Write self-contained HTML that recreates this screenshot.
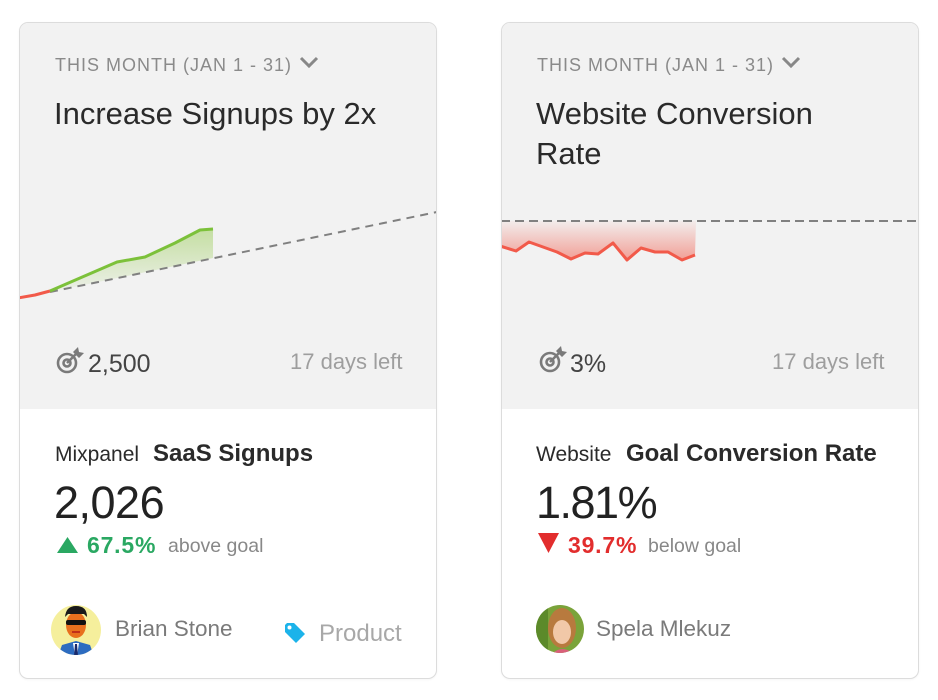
<!DOCTYPE html>
<html><head><meta charset="utf-8">
<style>
*{margin:0;padding:0;box-sizing:border-box}
html,body{width:938px;height:700px;background:#fff;overflow:hidden;font-family:"Liberation Sans",Arial,sans-serif}
.card{position:absolute;top:22px;width:418px;height:657px;border:1.5px solid #dcdcdc;border-radius:9px;overflow:hidden;background:#fff;box-shadow:0 1px 2px rgba(0,0,0,0.04)}
.top{position:absolute;left:0;top:0;width:100%;height:386px;background:#f2f2f2}
.t{position:absolute;white-space:nowrap;line-height:1}
.hdr{font-size:18px;letter-spacing:1px;color:#8a8a8a}
.title{font-size:31px;color:#2a2a2a}
.goal{font-size:25px;color:#444}
.days{font-size:22px;color:#9e9e9e}
.src{font-size:21px;color:#2a2a2a}
.met{font-size:24px;font-weight:bold;color:#2a2a2a}
.big{font-size:45px;color:#222}
.pct{font-size:23px;font-weight:bold;letter-spacing:0.8px}
.lbl{font-size:19.5px;color:#888}
.name{font-size:22.5px;color:#7a7a7a}
svg.ov{position:absolute;left:0;top:0}
</style></head><body>

<div class="card" style="left:19px"><div class="top"></div></div>
<div class="card" style="left:501px"><div class="top"></div></div>

<svg class="ov" width="938" height="700" viewBox="0 0 938 700">
<defs>
<linearGradient id="gg" x1="0" y1="229" x2="0" y2="292" gradientUnits="userSpaceOnUse">
<stop offset="0" stop-color="#8cc63f" stop-opacity="0.45"/>
<stop offset="1" stop-color="#8cc63f" stop-opacity="0.05"/>
</linearGradient>
<linearGradient id="rg" x1="0" y1="222" x2="0" y2="260" gradientUnits="userSpaceOnUse">
<stop offset="0" stop-color="#f25a4a" stop-opacity="0.05"/>
<stop offset="1" stop-color="#f25a4a" stop-opacity="0.55"/>
</linearGradient>
<clipPath id="cl"><rect x="20" y="23" width="416" height="386"/></clipPath>
<clipPath id="cr"><rect x="502" y="23" width="415" height="386"/></clipPath>
</defs>
<g clip-path="url(#cl)">
<polygon points="50,292 80,278 117,262 145,257 175,243 200,230 213,229 213,258" fill="url(#gg)"/>
<line x1="50" y1="292" x2="437" y2="212" stroke="#808080" stroke-width="2" stroke-dasharray="8 6"/>
<polyline points="18,298 35,295 50,291" fill="none" stroke="#f25a4a" stroke-width="3" stroke-linejoin="round"/>
<polyline points="50,291 80,278 117,262 145,257 175,243 200,230 213,229" fill="none" stroke="#7cc13a" stroke-width="3" stroke-linejoin="round"/>
</g>
<g clip-path="url(#cr)">
<polygon points="501,221 696,221 695,255 682,260 668,252 655,252 641,248 627,260 613,243 598,254 585,253 571,259 557,252 543,247 529,242 516,251 501,246" fill="url(#rg)"/>
<line x1="501" y1="221" x2="918" y2="221" stroke="#808080" stroke-width="2" stroke-dasharray="9 5"/>
<polyline points="500,246 516,251 529,242 543,247 557,252 571,259 585,253 598,254 613,243 627,260 641,248 655,252 668,252 682,260 695,255" fill="none" stroke="#f25a4a" stroke-width="3" stroke-linejoin="round"/>
</g>

<polyline points="301,58 309,66 317,58" fill="none" stroke="#888" stroke-width="3"/>
<polyline points="783,58 791,66 799,58" fill="none" stroke="#888" stroke-width="3"/>

<g fill="none" stroke="#7a7a7a" stroke-width="2.6">
<circle cx="67" cy="363" r="9"/><circle cx="67" cy="363" r="3.5"/>
<line x1="67" y1="363" x2="77" y2="353"/>
</g>
<polygon points="73,352 78,347 79,352 84,353 79,358" fill="#7a7a7a"/>
<g fill="none" stroke="#7a7a7a" stroke-width="2.6">
<circle cx="550" cy="362" r="9"/><circle cx="550" cy="362" r="3.5"/>
<line x1="550" y1="362" x2="560" y2="352"/>
</g>
<polygon points="556,351 561,346 562,351 567,352 562,357" fill="#7a7a7a"/>

<polygon points="57,553 67.5,537 78,553" fill="#2aa862"/>
<polygon points="538,533 559,533 548.5,553" fill="#e22d2d"/>

<g transform="translate(285,623)">
<path d="M0,2 L0,9 L11,20 L20,11 L9,0 L2,0 Z" fill="#1cb3ea"/>
<circle cx="4.5" cy="4.5" r="2" fill="#fff"/>
</g>

<clipPath id="a1"><circle cx="76" cy="630" r="25"/></clipPath>
<g clip-path="url(#a1)">
<rect x="50" y="604" width="52" height="52" fill="#f5ef9c"/>
<path d="M58,656 L62,645 L76,641 L90,645 L94,656 Z" fill="#2d6cc0"/>
<path d="M73,643 L79,643 L77,656 L75,656 Z" fill="#fff"/>
<path d="M75,644 L77,644 L78,656 L74,656 Z" fill="#1a2a6a"/>
<ellipse cx="76" cy="625" rx="10" ry="13" fill="#e8701e"/>
<path d="M65,617 Q66,606 76,606 Q87,606 87,617 L84,614 L68,614 Z" fill="#1a1a1a"/>
<rect x="66" y="620" width="20" height="5" rx="2" fill="#111"/>
<rect x="72" y="631" width="8" height="2" fill="#c0301a"/>
</g>

<clipPath id="a2"><circle cx="560" cy="629" r="24"/></clipPath>
<g clip-path="url(#a2)">
<rect x="534" y="603" width="52" height="52" fill="#7aa33a"/>
<rect x="534" y="603" width="14" height="52" fill="#5c8a2a"/>
<ellipse cx="562" cy="628" rx="14" ry="20" fill="#b87a3e"/>
<ellipse cx="562" cy="632" rx="9" ry="12" fill="#f1c8a8"/>
<path d="M550,656 Q562,642 576,656 Z" fill="#d9607a"/>
</g>
</svg>

<div class="t hdr" style="left:55px;top:55.5px">THIS MONTH (JAN 1 - 31)</div>
<div class="t title" style="left:54px;top:97.8px">Increase Signups by 2x</div>
<div class="t goal" style="left:88px;top:351.8px">2,500</div>
<div class="t days" style="left:290px;top:351.4px">17 days left</div>
<div class="t src" style="left:55px;top:444.2px">Mixpanel</div>
<div class="t met" style="left:153px;top:441.7px">SaaS Signups</div>
<div class="t big" style="left:54px;top:479.9px;letter-spacing:-0.5px">2,026</div>
<div class="t pct" style="left:87px;top:533.5px;color:#2aa862">67.5%</div>
<div class="t lbl" style="left:168px;top:536.5px">above goal</div>
<div class="t name" style="left:115px;top:618px">Brian Stone</div>
<div class="t name" style="left:319px;top:621.7px;font-size:24px;color:#a8a8a8">Product</div>

<div class="t hdr" style="left:537px;top:55.5px">THIS MONTH (JAN 1 - 31)</div>
<div class="t title" style="left:536px;top:97.8px">Website Conversion</div>
<div class="t title" style="left:536px;top:138px">Rate</div>
<div class="t goal" style="left:570px;top:351.8px">3%</div>
<div class="t days" style="left:772px;top:351.4px">17 days left</div>
<div class="t src" style="left:536px;top:444.2px">Website</div>
<div class="t met" style="left:626px;top:441.7px">Goal Conversion Rate</div>
<div class="t big" style="left:536px;top:479.9px;letter-spacing:-1.5px">1.81%</div>
<div class="t pct" style="left:568px;top:533.5px;color:#e22d2d">39.7%</div>
<div class="t lbl" style="left:648px;top:536.5px">below goal</div>
<div class="t name" style="left:596px;top:618px">Spela Mlekuz</div>

</body></html>
